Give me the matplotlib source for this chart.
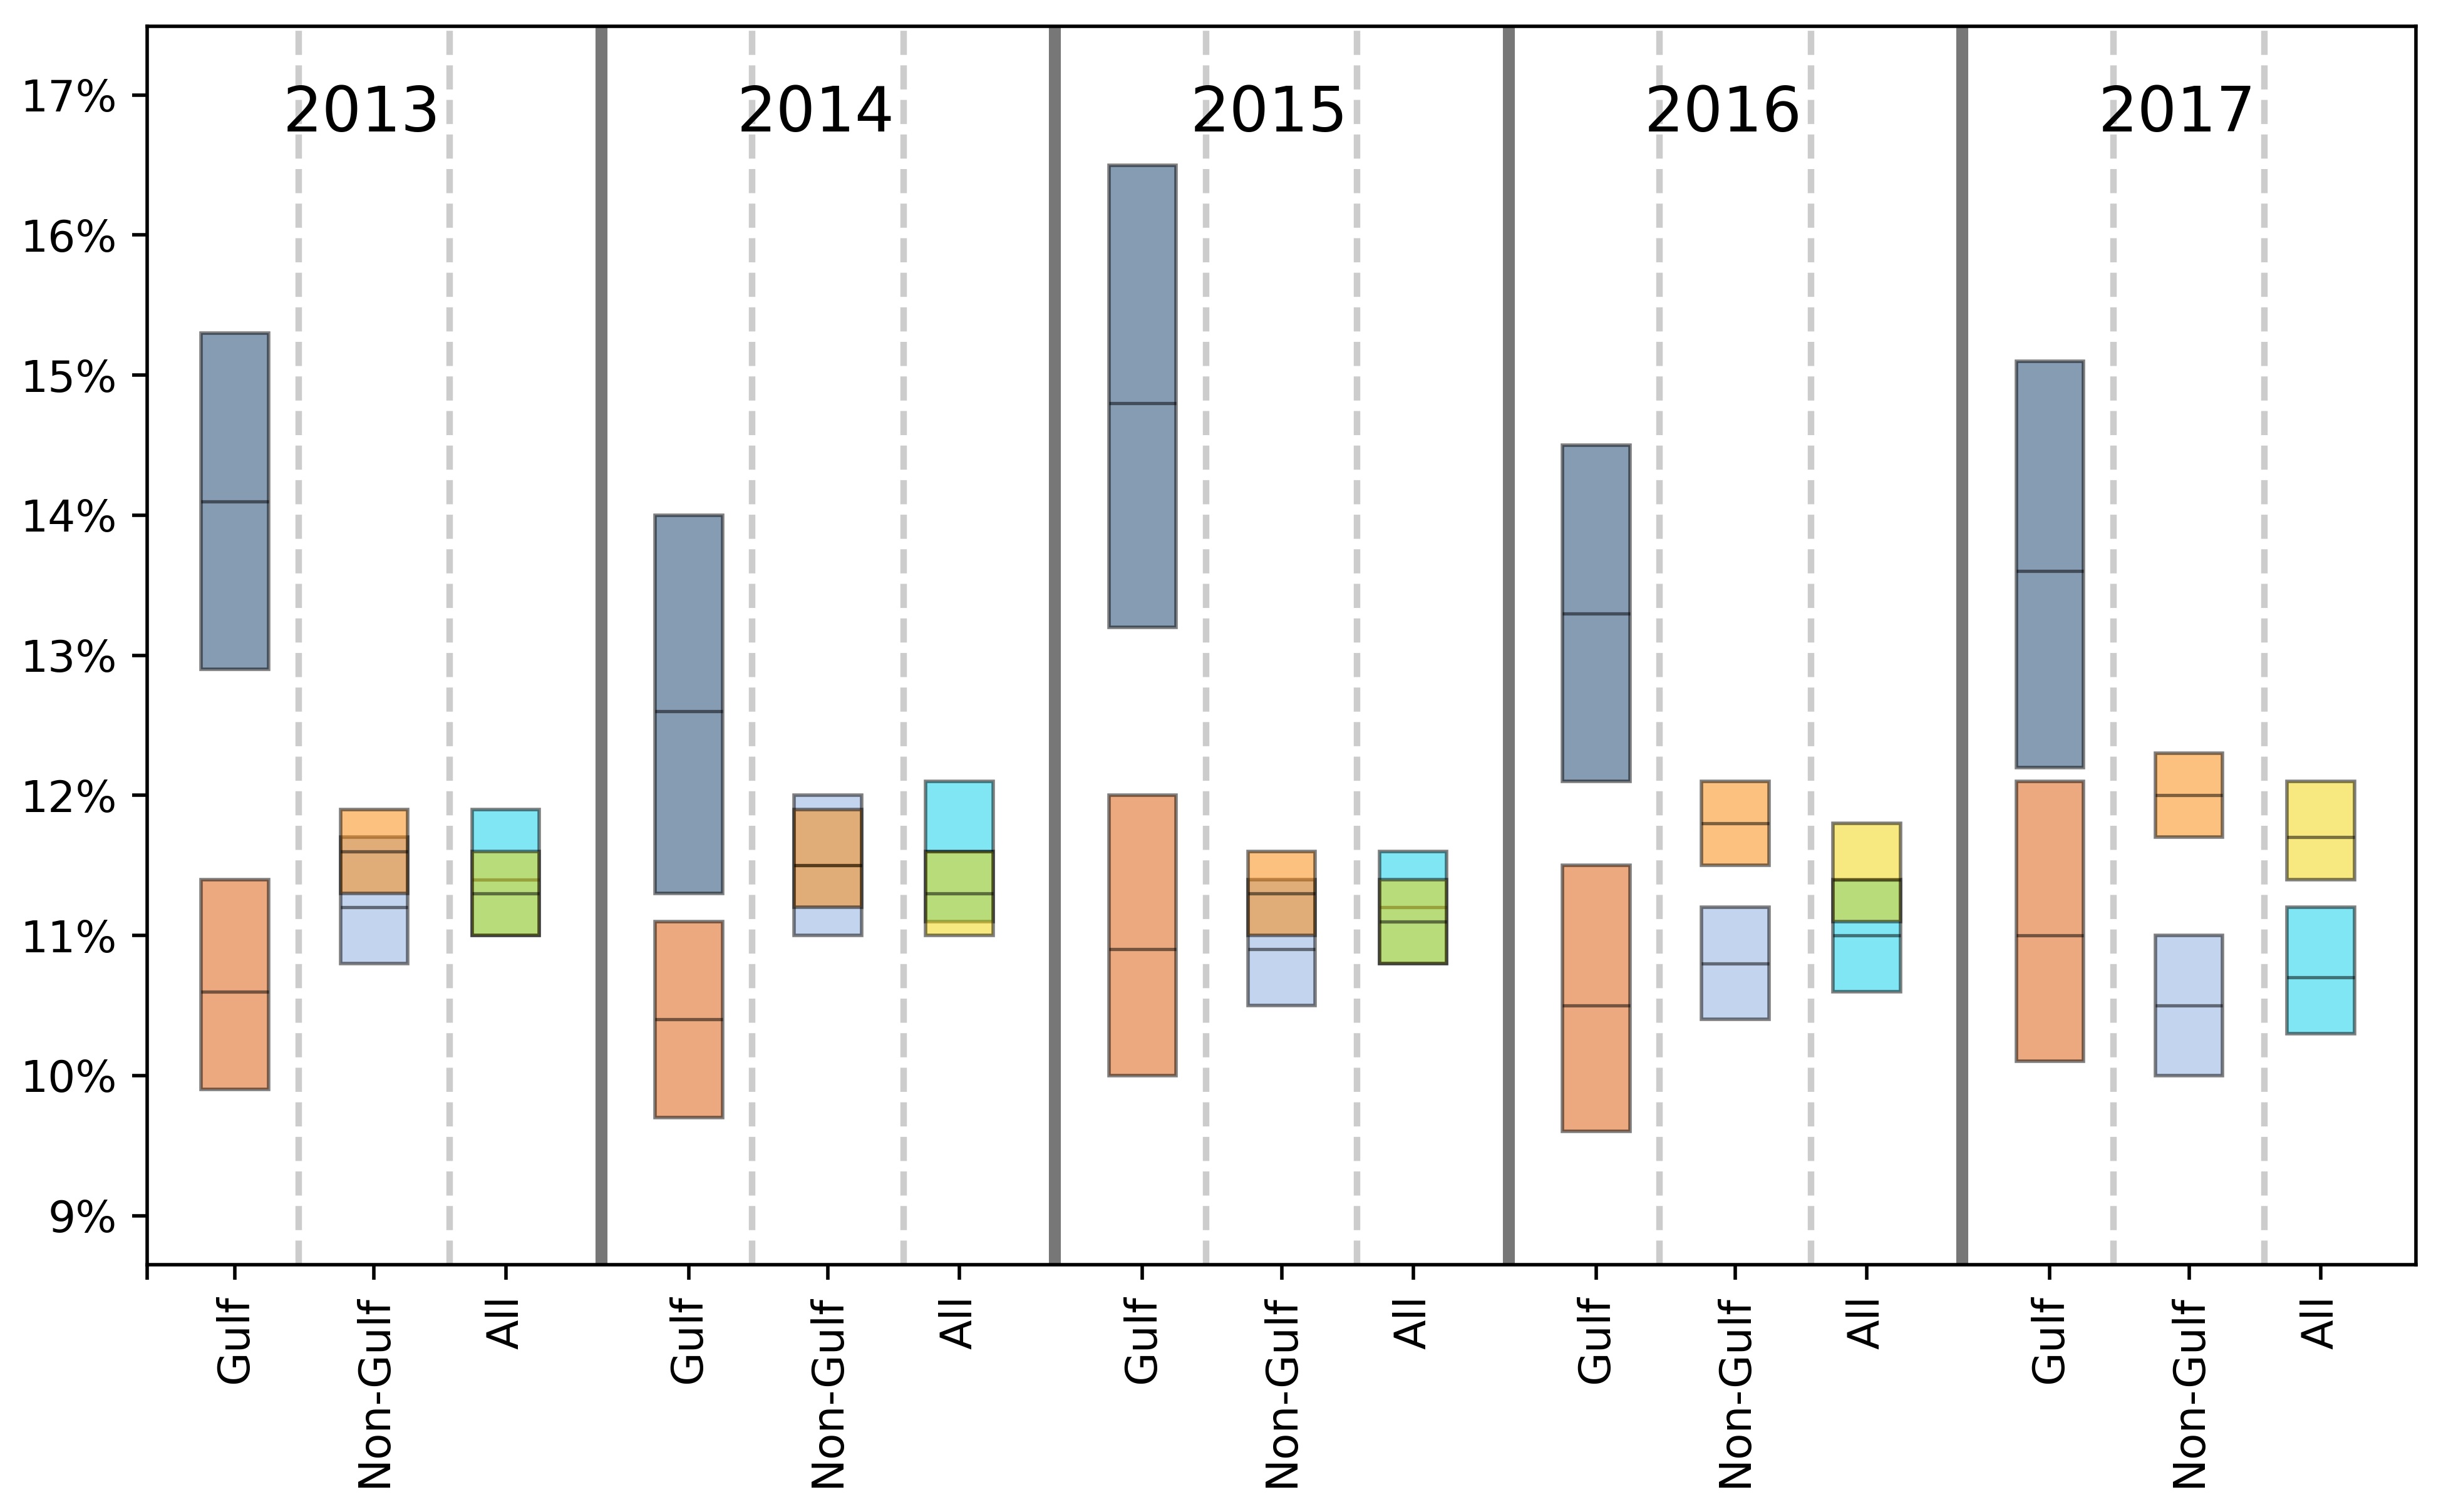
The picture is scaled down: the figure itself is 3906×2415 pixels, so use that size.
import numpy as np
import matplotlib.pyplot as plt

years = ['2013', '2014', '2015', '2016', '2017']
categories = ['Gulf', 'Non-Gulf', 'All']

# Gulf: two ranges (low / median / high), in %
gulf_a_low = [12.9, 11.3, 13.2, 12.1, 12.2]
gulf_a_med = [14.1, 12.6, 14.8, 13.3, 13.6]
gulf_a_high = [15.3, 14.0, 16.5, 14.5, 15.1]
gulf_b_low = [9.9, 9.7, 10.0, 9.6, 10.1]
gulf_b_med = [10.6, 10.4, 10.9, 10.5, 11.0]
gulf_b_high = [11.4, 11.1, 12.0, 11.5, 12.1]

# Non-Gulf
nongulf_a_low = [10.8, 11.0, 10.5, 10.4, 10.0]
nongulf_a_med = [11.2, 11.5, 10.9, 10.8, 10.5]
nongulf_a_high = [11.7, 12.0, 11.4, 11.2, 11.0]
nongulf_b_low = [11.3, 11.2, 11.0, 11.5, 11.7]
nongulf_b_med = [11.6, 11.5, 11.3, 11.8, 12.0]
nongulf_b_high = [11.9, 11.9, 11.6, 12.1, 12.3]

# All
all_a_low = [11.0, 11.1, 10.8, 10.6, 10.3]
all_a_med = [11.4, 11.6, 11.2, 11.0, 10.7]
all_a_high = [11.9, 12.1, 11.6, 11.4, 11.2]
all_b_low = [11.0, 11.0, 10.8, 11.1, 11.4]
all_b_med = [11.3, 11.3, 11.1, 11.4, 11.7]
all_b_high = [11.6, 11.6, 11.4, 11.8, 12.1]

yticks = [9, 10, 11, 12, 13, 14, 15, 16, 17]

# layout: each year takes 3 units, boxes sit at these offsets
offsets = [0.58, 1.50, 2.37]
width = 0.445
base = np.arange(len(years)) * 3

fig = plt.figure(figsize=(15.624, 9.66), dpi=250)
ax = fig.add_axes([0.0602, 0.1636, 0.9275, 0.819])


def draw(xs, low, med, high, color):
    low = np.array(low)
    med = np.array(med)
    high = np.array(high)
    ax.bar(xs, high - low, width, bottom=low, color=color, alpha=0.5,
           edgecolor='k', linewidth=1.6, zorder=3)
    ax.hlines(med, xs - width / 2, xs + width / 2, colors='k', alpha=0.5,
              lw=1.5, zorder=3)


draw(base + offsets[0], gulf_a_low, gulf_a_med, gulf_a_high, '#0f3b69')
draw(base + offsets[0], gulf_b_low, gulf_b_med, gulf_b_high, '#db5500')
draw(base + offsets[1], nongulf_a_low, nongulf_a_med, nongulf_a_high, '#89abe1')
draw(base + offsets[1], nongulf_b_low, nongulf_b_med, nongulf_b_high, '#fd8500')
draw(base + offsets[2], all_a_low, all_a_med, all_a_high, '#03cfeb')
draw(base + offsets[2], all_b_low, all_b_med, all_b_high, '#f1d301')

# dividers
for i in range(len(years)):
    ax.axvline(base[i] + 1, color='#cccccc', ls='--', lw=3, zorder=1)
    ax.axvline(base[i] + 2, color='#cccccc', ls='--', lw=3, zorder=1)
    if i > 0:
        ax.axvline(base[i], color='#777777', lw=5.5, zorder=2)
    ax.text(base[i] + 1.42, 16.74, years[i], ha='center', va='baseline',
            fontsize=28.5)

ax.set_xlim(0, 3 * len(years))
ax.set_ylim(8.65, 17.49)

xt = [0]
xl = ['']
for i in range(len(years)):
    for j, c in enumerate(categories):
        xt.append(base[i] + offsets[j])
        xl.append(c)
ax.set_xticks(xt)
ax.set_xticklabels(xl, rotation=90)
ax.set_yticks(yticks)
ax.set_yticklabels([f'{v}%' for v in yticks])

ax.tick_params(length=7, width=1.6, labelsize=20, pad=7)
for s in ax.spines.values():
    s.set_linewidth(1.6)

fig.savefig('out.png', dpi=250)
